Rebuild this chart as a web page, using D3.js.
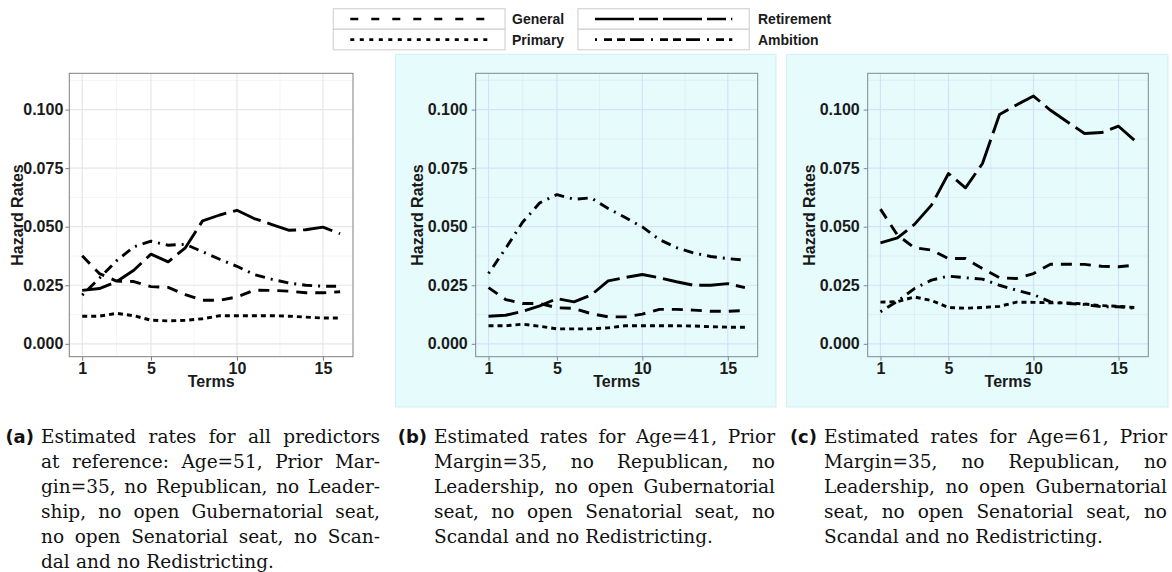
<!DOCTYPE html>
<html>
<head>
<meta charset="UTF-8">
<title>Hazard rates</title>
<script src="https://cdn.jsdelivr.net/npm/d3@7"></script>
<style>
body { margin:0; background:#fff; }
.tick text { font-family:"Liberation Sans", Arial, sans-serif; font-weight:bold; font-size:16px; fill:#1a1a1a; }
.axtitle { font-family:"Liberation Sans", Arial, sans-serif; font-weight:bold; font-size:16px; fill:#1a1a1a; }
.leg { font-family:"Liberation Sans", Arial, sans-serif; font-weight:bold; font-size:14px; fill:#1a1a1a; }
.cap { font-family:"DejaVu Serif", serif; font-size:18.5px; fill:#111; }
.capl { font-family:"DejaVu Sans", sans-serif; font-weight:bold; font-size:18px; fill:#111; }
.line { fill:none; stroke:#000; stroke-width:2.9px; stroke-linejoin:round; }
</style>
</head>
<body>
<svg id="fig" width="1172" height="572"></svg>
<script>
// data
var terms = [1,2,3,4,5,6,7,8,9,10,11,12,13,14,15,16];
var yTicks = [0, 0.025, 0.05, 0.075, 0.1];
var xTicks = [1, 5, 10, 15];
var seriesNames = ["General", "Primary", "Retirement", "Ambition"];

var generalA    = [0.0376,0.0300,0.0268,0.0266,0.0244,0.0241,0.0210,0.0186,0.0186,0.0200,0.0229,0.0228,0.0225,0.0218,0.0218,0.0222];
var primaryA    = [0.0118,0.0118,0.0130,0.0120,0.0101,0.0098,0.0100,0.0107,0.0120,0.0120,0.0120,0.0120,0.0118,0.0114,0.0110,0.0110];
var retirementA = [0.0228,0.0236,0.0265,0.0314,0.0383,0.0350,0.0410,0.0525,0.0550,0.0570,0.0535,0.0510,0.0485,0.0487,0.0498,0.0470];
var ambitionA   = [0.0208,0.0280,0.0355,0.0414,0.0438,0.0421,0.0425,0.0393,0.0361,0.0331,0.0296,0.0276,0.0260,0.0250,0.0246,0.0246];

var generalB    = [0.0240,0.0189,0.0172,0.0172,0.0154,0.0151,0.0129,0.0115,0.0115,0.0127,0.0147,0.0147,0.0144,0.0139,0.0139,0.0142];
var primaryB    = [0.0077,0.0077,0.0084,0.0075,0.0064,0.0064,0.0064,0.0068,0.0077,0.0077,0.0077,0.0077,0.0076,0.0073,0.0071,0.0071];
var retirementB = [0.0118,0.0122,0.0139,0.0162,0.0193,0.0179,0.0208,0.0269,0.0283,0.0296,0.0282,0.0265,0.0250,0.0250,0.0257,0.0240];
var ambitionB   = [0.0300,0.0407,0.0520,0.0602,0.0637,0.0617,0.0623,0.0578,0.0539,0.0499,0.0445,0.0411,0.0388,0.0373,0.0364,0.0357];

var generalC    = [0.0575,0.0464,0.0410,0.0400,0.0364,0.0364,0.0321,0.0282,0.0279,0.0300,0.0340,0.0340,0.0339,0.0331,0.0329,0.0336];
var primaryC    = [0.0178,0.0180,0.0200,0.0185,0.0155,0.0152,0.0155,0.0160,0.0178,0.0177,0.0175,0.0175,0.0170,0.0163,0.0160,0.0155];
var retirementC = [0.0431,0.0452,0.0510,0.0592,0.0727,0.0666,0.0770,0.0979,0.1020,0.1058,0.0997,0.0947,0.0898,0.0902,0.0929,0.0865];
var ambitionC   = [0.0137,0.0182,0.0236,0.0272,0.0289,0.0282,0.0276,0.0250,0.0229,0.0210,0.0179,0.0172,0.0168,0.0158,0.0158,0.0151];

var captionA = ["Estimated rates for all predictors", "at reference: Age=51, Prior Mar-", "gin=35, no Republican, no Leader-",
                "ship, no open Gubernatorial seat,", "no open Senatorial seat, no Scan-", "dal and no Redistricting."];
var captionB = ["Estimated rates for Age=41, Prior", "Margin=35, no Republican, no", "Leadership, no open Gubernatorial",
                "seat, no open Senatorial seat, no", "Scandal and no Redistricting."];
var captionC = ["Estimated rates for Age=61, Prior", "Margin=35, no Republican, no", "Leadership, no open Gubernatorial",
                "seat, no open Senatorial seat, no", "Scandal and no Redistricting."];

// styling
var dashes = {General:"11,8", Primary:"5,4", Retirement:"30,7", Ambition:"2,6,10,6"};
var legDashes = {General:"8,13", Primary:"4,5.5", Retirement:"39,5,19,5", Ambition:"2,7,8,5,8,5,14,7"};

var svg = d3.select("#fig");
var plotTop = 73.3, plotBottom = 356.7;

var panels = [
  {label:"(a)", left:69.3, right:353, shaded:false, ylab:52, gap:6, series:[generalA, primaryA, retirementA, ambitionA],
   cap:captionA, capText:41, capRight:380},
  {label:"(b)", left:475.7, right:757.7, shaded:true, box:[395.7,54.3,776,407], ylab:59, gap:8, series:[generalB, primaryB, retirementB, ambitionB],
   cap:captionB, capText:434, capRight:775},
  {label:"(c)", left:867.7, right:1148.3, shaded:true, box:[786.7,54.3,1168,407], ylab:59, gap:8, series:[generalC, primaryC, retirementC, ambitionC],
   cap:captionC, capText:824, capRight:1167}
];

panels.forEach(function(p) {
  var g = svg.append("g");
  if (p.shaded) {
    g.append("rect").attr("x", p.box[0]).attr("y", p.box[1])
      .attr("width", p.box[2]-p.box[0]).attr("height", p.box[3]-p.box[1])
      .attr("fill", "#e6fcfc").attr("stroke", "#cdf1f3").attr("stroke-width", 1);
  }
  var x = d3.scaleLinear().domain([0.25, 16.75]).range([p.left, p.right]);
  var y = d3.scaleLinear().domain([-0.0055, 0.1155]).range([plotBottom, plotTop]);
  var gridCol = p.shaded ? "#d5e1f5" : "#e6e6e6";
  var minorCol = p.shaded ? "#dde9f7" : "#f1f1f1";
  var borderCol = p.shaded ? "#7d8798" : "#7f7f7f";

  g.append("rect").attr("x", p.left).attr("y", plotTop).attr("width", p.right-p.left).attr("height", plotBottom-plotTop)
    .attr("fill", p.shaded ? "#e6fcfc" : "#fff");

  // minor grid
  g.selectAll(".mx").data([3, 7.5, 12.5]).enter().append("line")
    .attr("x1", x).attr("x2", x).attr("y1", plotTop).attr("y2", plotBottom).attr("stroke", minorCol).attr("stroke-width", 0.8);
  g.selectAll(".my").data([0.0125, 0.0375, 0.0625, 0.0875, 0.1125]).enter().append("line")
    .attr("y1", y).attr("y2", y).attr("x1", p.left).attr("x2", p.right).attr("stroke", minorCol).attr("stroke-width", 0.8);
  // major grid
  g.selectAll(".gx").data(xTicks).enter().append("line")
    .attr("x1", x).attr("x2", x).attr("y1", plotTop).attr("y2", plotBottom).attr("stroke", gridCol).attr("stroke-width", 1.2);
  g.selectAll(".gy").data(yTicks).enter().append("line")
    .attr("y1", y).attr("y2", y).attr("x1", p.left).attr("x2", p.right).attr("stroke", gridCol).attr("stroke-width", 1.2);

  var line = d3.line().x(function(d, i) { return x(terms[i]); }).y(function(d) { return y(d); });
  p.series.forEach(function(s, i) {
    g.append("path").attr("class", "line").attr("d", line(s))
      .style("stroke-dasharray", dashes[seriesNames[i]]);
  });

  g.append("rect").attr("x", p.left).attr("y", plotTop).attr("width", p.right-p.left).attr("height", plotBottom-plotTop)
    .attr("fill", "none").attr("stroke", borderCol).attr("stroke-width", 1);

  var ax = g.append("g").attr("transform", "translate(" + p.left + ",0)")
    .call(d3.axisLeft(y).tickValues(yTicks).tickFormat(d3.format(".3f")).tickSize(4).tickPadding(p.gap - 4));
  var bx = g.append("g").attr("transform", "translate(0," + plotBottom + ")")
    .call(d3.axisBottom(x).tickValues(xTicks).tickSize(4).tickPadding(2));
  [ax, bx].forEach(function(a) {
    a.select(".domain").remove();
    a.selectAll(".tick line").attr("stroke", borderCol);
  });

  g.append("text").attr("class", "axtitle").attr("text-anchor", "middle")
    .attr("x", (p.left + p.right) / 2).attr("y", 387).text("Terms");
  g.append("text").attr("class", "axtitle").attr("text-anchor", "middle")
    .attr("transform", "translate(" + (p.left - p.ylab + 6) + "," + ((plotTop + plotBottom) / 2) + ") rotate(-90)")
    .text("Hazard Rates");

  // caption, justified line by line
  g.append("text").attr("class", "capl").attr("text-anchor", "end").attr("x", p.capText - 7).attr("y", 443).text(p.label);
  p.cap.forEach(function(ln, li) {
    var yy = 443 + li * 25;
    var words = ln.split(" ");
    var last = li === p.cap.length - 1;
    var nodes = words.map(function(w) {
      return g.append("text").attr("class", "cap").attr("y", yy).text(w);
    });
    var widths = nodes.map(function(n) { return n.node().getComputedTextLength(); });
    var total = d3.sum(widths);
    var space = last ? 6.2 : (p.capRight - p.capText - total) / (words.length - 1);
    var cx = p.capText;
    nodes.forEach(function(n, k) { n.attr("x", cx); cx += widths[k] + space; });
  });
});

// legend
var legRows = [8.7, 29.3];
var legCols = [{x0:333.3, x1:505, lx:512}, {x0:578, x1:749.3, lx:758}];
var legG = svg.append("g");
seriesNames.forEach(function(name, i) {
  var col = legCols[Math.floor(i / 2)], r = legRows[i % 2];
  legG.append("rect").attr("x", col.x0).attr("y", r).attr("width", col.x1 - col.x0).attr("height", 20.5)
    .attr("fill", "#fff").attr("stroke", "#d4d4d4").attr("stroke-width", 1.2);
  legG.append("line").attr("x1", col.x0 + 17).attr("x2", col.x1 - 17).attr("y1", r + 10.3).attr("y2", r + 10.3)
    .attr("stroke", "#000").attr("stroke-width", 2.6).style("stroke-dasharray", legDashes[name]);
  legG.append("text").attr("class", "leg").attr("x", col.lx).attr("y", r + 15.5).text(name);
});
</script>
</body>
</html>
